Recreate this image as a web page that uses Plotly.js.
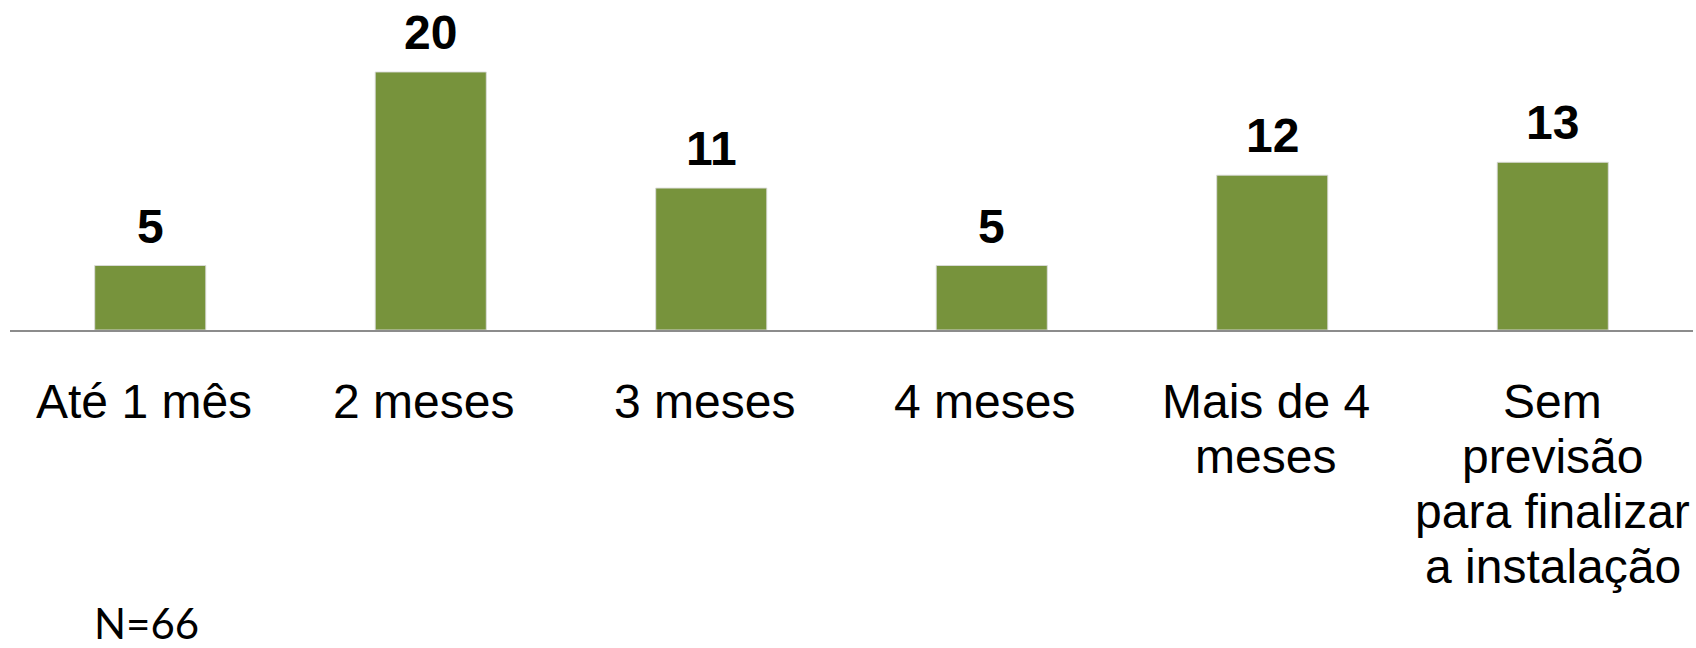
<!DOCTYPE html>
<html>
<head>
<meta charset="utf-8">
<script src="https://cdn.plot.ly/plotly-3.0.1.min.js"></script>
<style>html,body{margin:0;padding:0;background:#fff;}#chart{width:1696px;height:648px;}</style>
</head>
<body>
<div id="chart"></div>
<script>
// Data
const categories = ['Até 1 mês', '2 meses', '3 meses', '4 meses', 'Mais de 4 meses', 'Sem previsão para finalizar a instalação'];
// tick label lines as in the original (the first five carry a trailing space)
const tickLines = [
  ['Até 1 mês\u00A0'],
  ['2 meses\u00A0'],
  ['3 meses\u00A0'],
  ['4 meses\u00A0'],
  ['Mais de 4\u00A0', 'meses\u00A0'],
  ['Sem', 'previsão', 'para finalizar', 'a instalação']
];
const values = [5, 20, 11, 5, 12, 13];
const note = 'N=66';

const barColor = '#77933C';
const textFont = 'Liberation Sans, Arial, sans-serif';

const annotations = [];
// value labels
categories.forEach((c, i) => {
  annotations.push({
    x: c, y: values[i], xref: 'x', yref: 'y',
    text: '<b>' + values[i] + '</b>', showarrow: false,
    yanchor: 'bottom', yshift: 11,
    font: {family: textFont, size: 48, color: '#000'}
  });
});
// category labels (line by line for tight spacing)
categories.forEach((c, i) => {
  tickLines[i].forEach((line, j) => {
    annotations.push({
      x: c, y: 0, xref: 'x', yref: 'paper',
      text: line, showarrow: false,
      yanchor: 'top', yshift: -43 - 55 * j,
      font: {family: textFont, size: 48, color: '#000'}
    });
  });
});
// note
annotations.push({
  x: 0.049, y: 0, xref: 'paper', yref: 'paper', xanchor: 'left', yanchor: 'top',
  yshift: -266, text: note, showarrow: false,
  font: {family: 'Lato, Carlito, sans-serif', size: 42, color: '#000'}
});

const trace = {
  type: 'bar', x: categories, y: values,
  marker: {color: barColor, line: {color: 'rgba(220,220,220,0.9)', width: 1}},
  hoverinfo: 'none'
};

const layout = {
  width: 1696, height: 648,
  margin: {l: 10, r: 3, t: 20, b: 318},
  paper_bgcolor: '#fff', plot_bgcolor: '#fff',
  bargap: 0.604,
  showlegend: false,
  xaxis: {
    showline: true, linecolor: '#8c8c8c', linewidth: 2,
    showticklabels: false, ticks: '', showgrid: false, zeroline: false,
    fixedrange: true
  },
  yaxis: {
    range: [0, 24.03], visible: false, showgrid: false, zeroline: false, fixedrange: true
  },
  annotations: annotations
};

Plotly.newPlot('chart', [trace], layout, {displayModeBar: false, staticPlot: true});
</script>
</body>
</html>
